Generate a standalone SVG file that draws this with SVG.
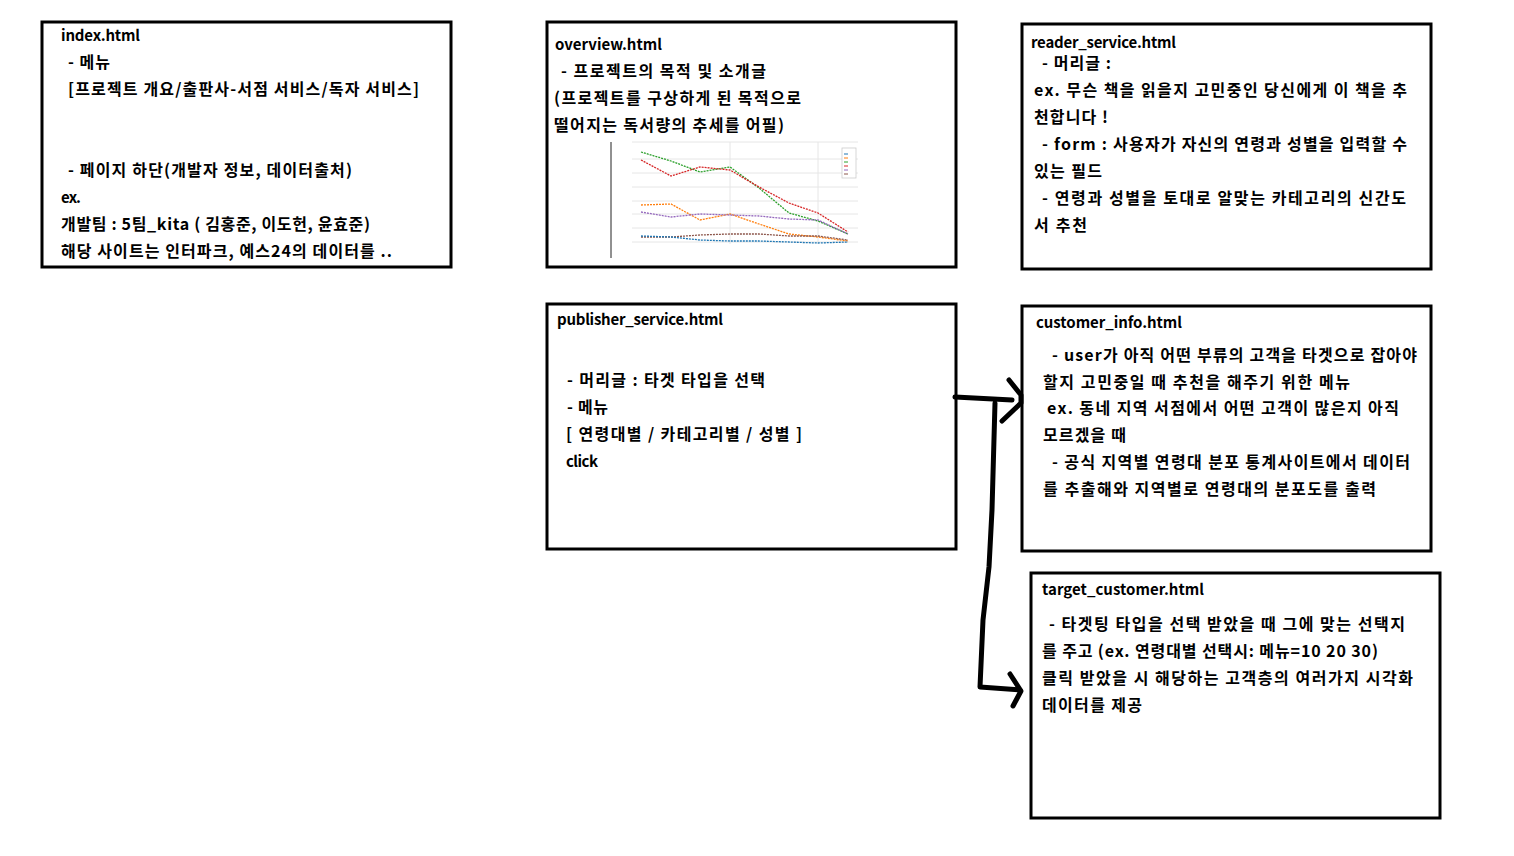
<svg xmlns="http://www.w3.org/2000/svg" width="1514" height="856" viewBox="0 0 1514 856">
<style>
.box{fill:#fff;stroke:#000;stroke-width:3}
.t{font-family:"Noto Sans CJK KR","Noto Sans",sans-serif;font-size:16px;font-weight:bold;fill:#000}
.h{font-size:15px}
.grid{stroke:#e6e6e6;stroke-width:1;fill:none}
.ln{fill:none;stroke-width:1.3;stroke-dasharray:2 1}
.conn{fill:none;stroke:#000;stroke-width:5;stroke-linecap:round;stroke-linejoin:round}
</style>
<rect width="1514" height="856" fill="#fff"/>
<g id="index">
<rect class="box" x="42" y="22" width="409" height="245"/>
<text class="t h" x="61" y="41" textLength="79" lengthAdjust="spacing">index.html</text>
<text class="t" x="68" y="68" textLength="42" lengthAdjust="spacing">- 메뉴</text>
<text class="t" x="68" y="95" textLength="351" lengthAdjust="spacing">[프로젝트 개요/출판사-서점 서비스/독자 서비스]</text>
<text class="t" x="68" y="176" textLength="284" lengthAdjust="spacing">- 페이지 하단(개발자 정보, 데이터출처)</text>
<text class="t h" x="61" y="203" textLength="20" lengthAdjust="spacing">ex.</text>
<text class="t" x="61" y="230" textLength="309" lengthAdjust="spacing">개발팀 : 5팀_kita ( 김홍준, 이도헌, 윤효준)</text>
<text class="t" x="61" y="257" textLength="331" lengthAdjust="spacing">해당 사이트는 인터파크, 예스24의 데이터를 ..</text>
</g>
<g id="overview">
<rect class="box" x="547" y="22" width="409" height="245"/>
<text class="t h" x="555" y="50" textLength="107" lengthAdjust="spacing">overview.html</text>
<text class="t" x="561" y="77" textLength="205" lengthAdjust="spacing">- 프로젝트의 목적 및 소개글</text>
<text class="t" x="554" y="104" textLength="247" lengthAdjust="spacing">(프로젝트를 구상하게 된 목적으로</text>
<text class="t" x="554" y="131" textLength="230" lengthAdjust="spacing">떨어지는 독서량의 추세를 어필)</text>
<g id="chart">
<line x1="632" y1="142" x2="858" y2="142" class="grid"/>
<line x1="632" y1="159" x2="858" y2="159" class="grid"/>
<line x1="632" y1="173" x2="858" y2="173" class="grid"/>
<line x1="632" y1="187" x2="858" y2="187" class="grid"/>
<line x1="632" y1="201" x2="858" y2="201" class="grid"/>
<line x1="632" y1="214" x2="858" y2="214" class="grid"/>
<line x1="632" y1="228" x2="858" y2="228" class="grid"/>
<line x1="632" y1="242" x2="858" y2="242" class="grid"/>
<line x1="730" y1="142" x2="730" y2="244" class="grid"/>
<line x1="818" y1="142" x2="818" y2="244" class="grid"/>
<line x1="611" y1="142" x2="611" y2="258" stroke="#222" stroke-width="1"/>
<polyline class="ln" stroke="#2ca02c" points="641,152 671,161 700,172 730,167 759,188 789,213 818,221 848,234"/>
<polyline class="ln" stroke="#d62728" points="641,160 671,176 700,167 730,170 759,187 789,203 818,213 848,232"/>
<polyline class="ln" stroke="#ff7f0e" points="641,205 671,204 700,220 730,214 759,224 789,234 818,237 848,241"/>
<polyline class="ln" stroke="#9467bd" points="641,212 671,217 700,214 730,215 759,216 789,219 818,220 848,234"/>
<polyline class="ln" stroke="#8c564b" points="641,237 671,237 700,235 730,234 759,234 789,236 818,236 848,240"/>
<polyline class="ln" stroke="#1f77b4" points="641,236 671,237 700,240 730,241 759,241 789,242 818,243 848,242"/>
<rect x="842" y="148" width="14" height="30" fill="#fff" stroke="#ccc" stroke-width="0.8"/>
<line x1="844" y1="154" x2="848" y2="154" stroke="#1f77b4"/>
<line x1="844" y1="158" x2="848" y2="158" stroke="#ff7f0e"/>
<line x1="844" y1="162" x2="848" y2="162" stroke="#2ca02c"/>
<line x1="844" y1="166" x2="848" y2="166" stroke="#d62728"/>
<line x1="844" y1="170" x2="848" y2="170" stroke="#9467bd"/>
<line x1="844" y1="174" x2="848" y2="174" stroke="#8c564b"/>
</g>
</g>
<g id="reader_service">
<rect class="box" x="1022" y="24" width="409" height="245"/>
<text class="t h" x="1031" y="48" textLength="145" lengthAdjust="spacing">reader_service.html</text>
<text class="t" x="1042" y="69" textLength="69" lengthAdjust="spacing">- 머리글 :</text>
<text class="t" x="1034" y="96" textLength="373" lengthAdjust="spacing">ex. 무슨 책을 읽을지 고민중인 당신에게 이 책을 추</text>
<text class="t" x="1034" y="123" textLength="74" lengthAdjust="spacing">천합니다 !</text>
<text class="t" x="1042" y="150" textLength="365" lengthAdjust="spacing">- form : 사용자가 자신의 연령과 성별을 입력할 수</text>
<text class="t" x="1034" y="177" textLength="68" lengthAdjust="spacing">있는 필드</text>
<text class="t" x="1042" y="204" textLength="364" lengthAdjust="spacing">- 연령과 성별을 토대로 알맞는 카테고리의 신간도</text>
<text class="t" x="1034" y="231" textLength="53" lengthAdjust="spacing">서 추천</text>
</g>
<g id="publisher_service">
<rect class="box" x="547" y="304" width="409" height="245"/>
<text class="t h" x="557" y="325" textLength="166" lengthAdjust="spacing">publisher_service.html</text>
<text class="t" x="567" y="386" textLength="198" lengthAdjust="spacing">- 머리글 : 타겟 타입을 선택</text>
<text class="t" x="567" y="413" textLength="41" lengthAdjust="spacing">- 메뉴</text>
<text class="t" x="566" y="440" textLength="236" lengthAdjust="spacing">[ 연령대별 / 카테고리별 / 성별 ]</text>
<text class="t h" x="566" y="467" textLength="32" lengthAdjust="spacing">click</text>
</g>
<g id="customer_info">
<rect class="box" x="1022" y="306" width="409" height="245"/>
<text class="t h" x="1036" y="328" textLength="146" lengthAdjust="spacing">customer_info.html</text>
<text class="t" x="1052" y="361" textLength="365" lengthAdjust="spacing">- user가 아직 어떤 부류의 고객을 타겟으로 잡아야</text>
<text class="t" x="1043" y="388" textLength="307" lengthAdjust="spacing">할지 고민중일 때 추천을 해주기 위한 메뉴</text>
<text class="t" x="1047" y="414" textLength="352" lengthAdjust="spacing">ex. 동네 지역 서점에서 어떤 고객이 많은지 아직</text>
<text class="t" x="1043" y="441" textLength="83" lengthAdjust="spacing">모르겠을 때</text>
<text class="t" x="1052" y="468" textLength="358" lengthAdjust="spacing">- 공식 지역별 연령대 분포 통계사이트에서 데이터</text>
<text class="t" x="1043" y="495" textLength="333" lengthAdjust="spacing">를 추출해와 지역별로 연령대의 분포도를 출력</text>
</g>
<g id="target_customer">
<rect class="box" x="1031" y="573" width="409" height="245"/>
<text class="t h" x="1042" y="595" textLength="162" lengthAdjust="spacing">target_customer.html</text>
<text class="t" x="1049" y="630" textLength="356" lengthAdjust="spacing">- 타겟팅 타입을 선택 받았을 때 그에 맞는 선택지</text>
<text class="t" x="1042" y="657" textLength="336" lengthAdjust="spacing">를 주고 (ex. 연령대별 선택시: 메뉴=10 20 30)</text>
<text class="t" x="1042" y="684" textLength="371" lengthAdjust="spacing">클릭 받았을 시 해당하는 고객층의 여러가지 시각화</text>
<text class="t" x="1042" y="711" textLength="100" lengthAdjust="spacing">데이터를 제공</text>
</g>
<g id="connectors">
<path class="conn" d="M955,397 L1012,400"/>
<path class="conn" d="M1009,380 L1021,395 L1021,403 L1002,421"/>
<path class="conn" d="M995,403 L992,510 L989,567 L983,620 L980,687 L1020,690"/>
<path class="conn" d="M1010,674 L1021,691 L1013,706"/>
</g>
</svg>
